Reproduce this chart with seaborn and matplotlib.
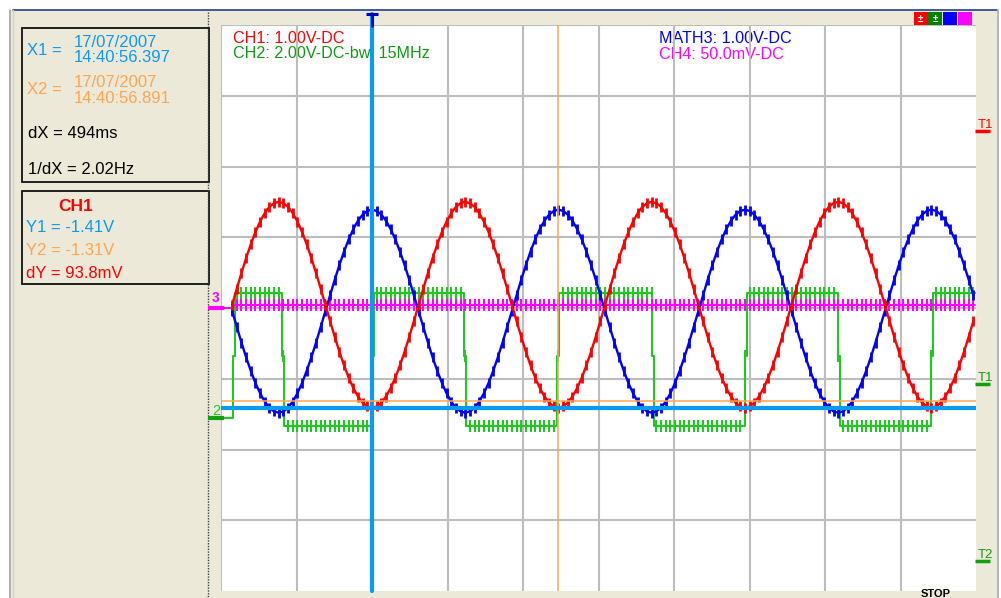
import numpy as np
import pandas as pd
import matplotlib
matplotlib.use("Agg")
import matplotlib.pyplot as plt
from matplotlib.patches import Rectangle
import seaborn as sns

# ---------------- data ----------------
# sampled traces (one value per ripple step), time of first sample and step in ms
sample_start_ms = 29.5
sample_step_ms = 12.35

ch1_v = [
    0.045, 0.273, 0.495, 0.706, 0.900, 1.074, 1.222, 1.341, 1.429, 1.482,
    1.500, 1.482, 1.429, 1.341, 1.222, 1.074, 0.900, 0.706, 0.495, 0.273,
    0.045, -0.183, -0.405, -0.616, -0.810, -0.984, -1.132, -1.251, -1.339, -1.392,
    -1.410, -1.392, -1.339, -1.251, -1.132, -0.984, -0.810, -0.616, -0.405, -0.183,
    0.045, 0.273, 0.495, 0.706, 0.900, 1.074, 1.222, 1.341, 1.429, 1.482,
    1.500, 1.482, 1.429, 1.341, 1.222, 1.074, 0.900, 0.706, 0.495, 0.273,
    0.045, -0.183, -0.405, -0.616, -0.810, -0.984, -1.132, -1.251, -1.339, -1.392,
    -1.410, -1.392, -1.339, -1.251, -1.132, -0.984, -0.810, -0.616, -0.405, -0.183,
    0.045, 0.273, 0.495, 0.706, 0.900, 1.074, 1.222, 1.341, 1.429, 1.482,
    1.500, 1.482, 1.429, 1.341, 1.222, 1.074, 0.900, 0.706, 0.495, 0.273,
    0.045, -0.183, -0.405, -0.616, -0.810, -0.984, -1.132, -1.251, -1.339, -1.392,
    -1.410, -1.392, -1.339, -1.251, -1.132, -0.984, -0.810, -0.616, -0.405, -0.183,
    0.045, 0.273, 0.495, 0.706, 0.900, 1.074, 1.222, 1.341, 1.429, 1.482,
    1.500, 1.482, 1.429, 1.341, 1.222, 1.074, 0.900, 0.706, 0.495, 0.273,
    0.045, -0.183, -0.405, -0.616, -0.810, -0.984, -1.132, -1.251, -1.339, -1.392,
    -1.410, -1.392, -1.339, -1.251, -1.132, -0.984, -0.810, -0.616, -0.405, -0.183,
]

math3_v = [
    -0.045, -0.269, -0.488, -0.696, -0.888, -1.060, -1.206, -1.324, -1.410, -1.462,
    -1.480, -1.462, -1.410, -1.324, -1.206, -1.060, -0.888, -0.696, -0.488, -0.269,
    -0.045, 0.179, 0.398, 0.606, 0.798, 0.970, 1.116, 1.234, 1.320, 1.372,
    1.390, 1.372, 1.320, 1.234, 1.116, 0.970, 0.798, 0.606, 0.398, 0.179,
    -0.045, -0.269, -0.488, -0.696, -0.888, -1.060, -1.206, -1.324, -1.410, -1.462,
    -1.480, -1.462, -1.410, -1.324, -1.206, -1.060, -0.888, -0.696, -0.488, -0.269,
    -0.045, 0.179, 0.398, 0.606, 0.798, 0.970, 1.116, 1.234, 1.320, 1.372,
    1.390, 1.372, 1.320, 1.234, 1.116, 0.970, 0.798, 0.606, 0.398, 0.179,
    -0.045, -0.269, -0.488, -0.696, -0.888, -1.060, -1.206, -1.324, -1.410, -1.462,
    -1.480, -1.462, -1.410, -1.324, -1.206, -1.060, -0.888, -0.696, -0.488, -0.269,
    -0.045, 0.179, 0.398, 0.606, 0.798, 0.970, 1.116, 1.234, 1.320, 1.372,
    1.390, 1.372, 1.320, 1.234, 1.116, 0.970, 0.798, 0.606, 0.398, 0.179,
    -0.045, -0.269, -0.488, -0.696, -0.888, -1.060, -1.206, -1.324, -1.410, -1.462,
    -1.480, -1.462, -1.410, -1.324, -1.206, -1.060, -0.888, -0.696, -0.488, -0.269,
    -0.045, 0.179, 0.398, 0.606, 0.798, 0.970, 1.116, 1.234, 1.320, 1.372,
    1.390, 1.372, 1.320, 1.234, 1.116, 0.970, 0.798, 0.606, 0.398, 0.179,
]

# CH2 square wave: level changes (time ms -> level V, step-post)
ch2_edges_ms = [8, 31.8, 37, 161.6, 167, 400, 405, 643.7, 649, 890, 895,
                1141.7, 1147, 1388, 1393, 1634, 1639, 1880.8, 1886, 1997]
ch2_levels_v = [0.0, 1.75, 3.53, 1.75, -0.23, 1.75, 3.53, 1.75, -0.23, 1.75, 3.53,
                1.75, -0.23, 1.75, 3.53, 1.75, -0.23, 1.75, 3.53, 3.53]

# CH4 (flat) : level changes
ch4_edges_ms = [8, 31.8, 1997]
ch4_levels_mv = [0.0, 2.0, 2.0]

# cursors
cursor_x_ms = [400, 894]
cursor_y_v = [-1.41, -1.31]

# channel settings (V/div, ground position in divisions)
CH1_V_PER_DIV, CH1_GND = 1.0, 0.0
MATH3_V_PER_DIV, MATH3_GND = 1.0, 0.0
CH2_V_PER_DIV, CH2_GND = 2.0, -1.555
CH4_MV_PER_DIV, CH4_GND = 50.0, 0.0
TIME_PER_DIV_MS = 200
N_XDIV, N_YDIV = 10, 8

channel_labels = ["CH1: 1.00V-DC", "CH2: 2.00V-DC-bwl 15MHz",
                  "MATH3: 1.00V-DC", "CH4: 50.0mV-DC"]

# ---------------- styling ----------------
sns.set_theme(style="white")
plt.rcParams["font.family"] = ["Liberation Sans", "DejaVu Sans"]

RED = "#FF0000"
BLUE = "#0000FF"
GREEN = "#22C822"
GREEN_TXT = "#119A11"
MAGENTA = "#FF00FF"
CUR_BLUE = "#0A9AF2"
ORANGE = "#FFA54F"
BEIGE = "#ECE9D8"
GRID = "#BDBDBD"

W, H, DPI = 1001, 598, 100
fig = plt.figure(figsize=(W / DPI, H / DPI), dpi=DPI)
fig.patch.set_facecolor("white")

# background (pixel coordinates)
bg = fig.add_axes([0, 0, 1, 1], zorder=0)
bg.set_xlim(0, W)
bg.set_ylim(H, 0)
bg.axis("off")
bg.add_patch(Rectangle((9, 10), 988, 590, facecolor=BEIGE, edgecolor="none"))
bg.plot([13, 997], [9.5, 9.5], color="#23408E", lw=1.2)
bg.plot([9.5, 9.5], [10, 598], color="#A8A8A8", lw=1.2)
bg.plot([12.5, 12.5], [10, 598], color="#D6D2C6", lw=1.0)
bg.plot([997.5, 997.5], [10, 598], color="#A8A8A8", lw=1.2)
bg.plot([208, 208], [12, 598], color="#404040", lw=1.0, ls=(0, (1, 1)))
bg.add_patch(Rectangle((22, 28), 187, 154, fill=False, edgecolor="#111111", lw=1.3))
bg.add_patch(Rectangle((22, 191), 187, 93, fill=False, edgecolor="#111111", lw=1.3))

# overlay for texts and markers (pixel coordinates)
ov = fig.add_axes([0, 0, 1, 1], zorder=3)
ov.set_xlim(0, W)
ov.set_ylim(H, 0)
ov.axis("off")
ov.patch.set_alpha(0)

# main scope screen
ax = fig.add_axes([221 / W, 1 - 591 / H, 755 / W, 566 / H], zorder=1)
ax.set_facecolor("white")
ax.set_xlim(0, N_XDIV * TIME_PER_DIV_MS)
ax.set_ylim(-N_YDIV / 2, N_YDIV / 2)
for s in ax.spines.values():
    s.set_visible(False)
ax.set_xticks([])
ax.set_yticks([])
for i in range(N_XDIV):
    ax.axvline(i * TIME_PER_DIV_MS, color=GRID, lw=1.5, zorder=0.5)
for j in range(1, N_YDIV + 1):
    ax.axhline(j - N_YDIV / 2, color=GRID, lw=1.5, zorder=0.5)

# channel labels on the screen (under grid and cursors)
FS = 11.6
for (px, py), lab, col in zip([(233, 43), (233, 58), (659, 43), (659, 59)], channel_labels,
                              [RED, GREEN_TXT, BLUE, MAGENTA]):
    ax.text(px, py, lab, color=col, fontsize=FS, va="baseline",
            transform=ov.transData, zorder=0.4)

t_samples = sample_start_ms + sample_step_ms * np.arange(len(ch1_v))

# CH2 (green) square wave
ch2_div = np.array(ch2_levels_v) / CH2_V_PER_DIV + CH2_GND
df2 = pd.DataFrame({"t": ch2_edges_ms, "y": ch2_div})
sns.lineplot(data=df2, x="t", y="y", ax=ax, color=GREEN, lw=1.5,
             drawstyle="steps-post", estimator=None, sort=False, legend=False, zorder=2)
edges = np.array(ch2_edges_ms)
mask2 = (t_samples >= ch2_edges_ms[2]) & (t_samples <= ch2_edges_ms[-1])
idx2 = np.searchsorted(edges, t_samples[mask2], side="right") - 1
df2r = pd.DataFrame({"t": t_samples[mask2], "y": ch2_div[idx2]})
sns.lineplot(data=df2r, x="t", y="y", ax=ax, color=GREEN, linestyle="none",
             marker="|", markersize=8, markeredgewidth=1.5, markeredgecolor=GREEN,
             estimator=None, sort=False, legend=False, zorder=2)

# CH4 (magenta) flat trace
ch4_div = np.array(ch4_levels_mv) / CH4_MV_PER_DIV + CH4_GND
df4 = pd.DataFrame({"t": ch4_edges_ms, "y": ch4_div})
sns.lineplot(data=df4, x="t", y="y", ax=ax, color=MAGENTA, lw=1.4,
             drawstyle="steps-post", estimator=None, sort=False, legend=False, zorder=3)
e4 = np.array(ch4_edges_ms)
mask4 = (t_samples >= ch4_edges_ms[1]) & (t_samples <= ch4_edges_ms[-1])
idx4 = np.searchsorted(e4, t_samples[mask4], side="right") - 1
df4r = pd.DataFrame({"t": t_samples[mask4], "y": ch4_div[idx4]})
sns.lineplot(data=df4r, x="t", y="y", ax=ax, color=MAGENTA, linestyle="none",
             marker="|", markersize=9, markeredgewidth=1.5, markeredgecolor=MAGENTA,
             estimator=None, sort=False, legend=False, zorder=3)

# MATH3 (blue)
df3 = pd.DataFrame({"t": t_samples, "y": np.array(math3_v) / MATH3_V_PER_DIV + MATH3_GND})
sns.lineplot(data=df3, x="t", y="y", ax=ax, color=BLUE, lw=1.7,
             marker="|", markersize=7, markeredgewidth=2.0, markeredgecolor=BLUE,
             estimator=None, sort=False, legend=False, zorder=4)

# CH1 (red)
df1 = pd.DataFrame({"t": t_samples, "y": np.array(ch1_v) / CH1_V_PER_DIV + CH1_GND})
sns.lineplot(data=df1, x="t", y="y", ax=ax, color=RED, lw=1.7,
             marker="|", markersize=7, markeredgewidth=2.0, markeredgecolor=RED,
             estimator=None, sort=False, legend=False, zorder=4.5)

ax.set_xlabel("")
ax.set_ylabel("")

# cursors
top_ext = N_YDIV / 2 + 11 / 70.75
ax.axvline(cursor_x_ms[0], ymin=0, ymax=(top_ext + N_YDIV / 2) / N_YDIV,
           color=CUR_BLUE, lw=3.0, zorder=6, clip_on=False)
ax.plot([cursor_x_ms[0] - 15, cursor_x_ms[0] + 15], [top_ext, top_ext],
        color="#0000C8", lw=2.2, zorder=7, clip_on=False, solid_capstyle="butt")
ax.plot([cursor_x_ms[0], cursor_x_ms[0]], [top_ext, N_YDIV / 2 - 0.02],
        color="#0000C8", lw=2.0, zorder=7, clip_on=False)
ax.axvline(cursor_x_ms[1], color=ORANGE, lw=1.1, zorder=6)
ax.axhline(cursor_y_v[0] / CH1_V_PER_DIV + CH1_GND, color=CUR_BLUE, lw=3.0, zorder=6)
ax.axhline(cursor_y_v[1] / CH1_V_PER_DIV + CH1_GND, color=ORANGE, lw=1.1, zorder=6)

LFS = 12
ov.text(27, 55, "X1 =", color=CUR_BLUE, fontsize=LFS, va="baseline")
ov.text(74, 47, "17/07/2007", color=CUR_BLUE, fontsize=LFS, va="baseline")
ov.text(74, 62, "14:40:56.397", color=CUR_BLUE, fontsize=LFS, va="baseline")
ov.text(27, 94, "X2 =", color=ORANGE, fontsize=LFS, va="baseline")
ov.text(74, 87, "17/07/2007", color=ORANGE, fontsize=LFS, va="baseline")
ov.text(74, 103, "14:40:56.891", color=ORANGE, fontsize=LFS, va="baseline")
ov.text(28, 138, "dX = 494ms", color="black", fontsize=LFS, va="baseline")
ov.text(28, 174, "1/dX = 2.02Hz", color="black", fontsize=LFS, va="baseline")
ov.text(58, 211, "CH1", color=RED, fontsize=12.5, fontweight="bold", va="baseline")
ov.text(26, 232, "Y1 = -1.41V", color=CUR_BLUE, fontsize=LFS, va="baseline")
ov.text(26, 255, "Y2 = -1.31V", color=ORANGE, fontsize=LFS, va="baseline")
ov.text(26, 278, "dY = 93.8mV", color=RED, fontsize=LFS, va="baseline")

# ground markers on the left of the screen
ov.text(212, 302, "3", color=MAGENTA, fontsize=10, fontweight="bold", va="baseline")
ov.plot([208, 224], [308, 308], color=MAGENTA, lw=3, solid_capstyle="butt")
ov.text(212, 415, "2", color=GREEN, fontsize=10.5, va="baseline")
ov.plot([208, 224], [418, 418], color="#10A010", lw=3, solid_capstyle="butt")

# trigger markers on the right
ov.text(978, 128, "T1", color=RED, fontsize=9.5, va="baseline")
ov.plot([975, 990], [130.5, 130.5], color=RED, lw=2.5, solid_capstyle="butt")
ov.text(978, 381, "T1", color=GREEN_TXT, fontsize=9.5, va="baseline")
ov.plot([975, 990], [384, 384], color="#10A010", lw=2.5, solid_capstyle="butt")
ov.text(978, 558, "T2", color=GREEN_TXT, fontsize=9.5, va="baseline")
ov.plot([975, 990], [561, 561], color="#10A010", lw=2.5, solid_capstyle="butt")

# channel colour squares top-right
for x0, c in [(914, "#FF0000"), (928, "#007F00"), (943, "#0000FF"), (958, "#FF00FF")]:
    ov.add_patch(Rectangle((x0, 12), 14, 13, facecolor=c, edgecolor="none"))
ov.text(920.5, 19, "±", color="white", fontsize=7, ha="center", va="center", fontweight="bold")
ov.text(935, 19, "±", color="white", fontsize=7, ha="center", va="center", fontweight="bold")

ov.text(921, 597, "STOP", color="black", fontsize=8, fontweight="bold", va="baseline")

fig.savefig("out.png", dpi=DPI, facecolor=fig.get_facecolor())
